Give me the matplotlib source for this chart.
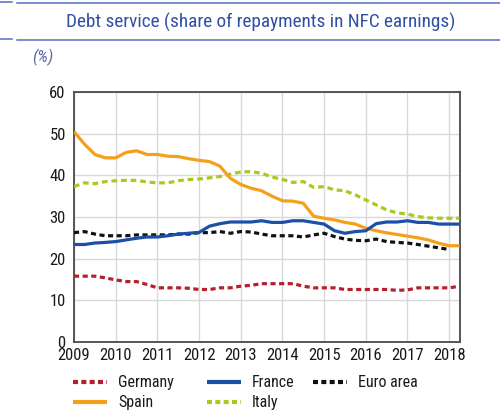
import numpy as np
import matplotlib
matplotlib.use("Agg")
import matplotlib.pyplot as plt
from matplotlib.lines import Line2D

plt.rcParams['font.family'] = ['Roboto Condensed', 'Archivo Narrow', 'DejaVu Sans']

# quarterly data 2009Q1 .. 2018Q2
start_year = 2009
n_quarters = 38
years = [2009, 2010, 2011, 2012, 2013, 2014, 2015, 2016, 2017, 2018]
yticks = [0, 10, 20, 30, 40, 50, 60]

germany = [15.8, 15.8, 15.8, 15.4, 14.9, 14.5, 14.5, 13.8, 13.0, 13.0,
           13.0, 12.9, 12.6, 12.6, 13.0, 13.0, 13.4, 13.6, 14.0, 14.0,
           14.0, 14.0, 13.4, 13.0, 13.0, 13.0, 12.6, 12.6, 12.6, 12.6,
           12.6, 12.4, 12.5, 13.0, 13.0, 13.0, 13.0, 13.4]
spain = [50.5, 47.5, 45.0, 44.2, 44.2, 45.5, 45.9, 45.0, 45.0, 44.6,
         44.5, 44.0, 43.6, 43.3, 42.2, 39.3, 37.8, 36.9, 36.3, 35.0,
         33.9, 33.8, 33.3, 30.2, 29.7, 29.3, 28.7, 28.3, 27.3, 26.7,
         26.2, 25.8, 25.4, 25.0, 24.5, 23.7, 23.1, 23.1]
france = [23.4, 23.4, 23.75, 23.9, 24.1, 24.5, 24.9, 25.2, 25.2, 25.5,
          25.9, 26.1, 26.3, 27.8, 28.4, 28.8, 28.8, 28.8, 29.1, 28.7,
          28.7, 29.1, 29.1, 28.7, 28.3, 26.7, 26.1, 26.5, 26.7, 28.4,
          28.8, 28.8, 29.1, 28.7, 28.7, 28.3, 28.3, 28.3]
italy = [37.3, 38.2, 38.0, 38.5, 38.7, 38.8, 38.8, 38.4, 38.2, 38.2,
         38.7, 39.0, 39.1, 39.4, 39.7, 40.3, 40.8, 40.9, 40.5, 39.6,
         39.0, 38.3, 38.5, 37.1, 37.3, 36.5, 36.3, 35.3, 34.1, 32.9,
         31.7, 31.0, 30.7, 30.1, 29.8, 29.7, 29.7, 29.7]
euro_area = [26.25, 26.5, 25.9, 25.5, 25.5, 25.5, 25.7, 25.7, 25.7, 25.7,
             25.9, 25.9, 26.25, 26.25, 26.5, 26.1, 26.5, 26.4, 25.9, 25.5,
             25.5, 25.5, 25.2, 25.7, 26.1, 25.3, 24.7, 24.4, 24.3, 24.7,
             24.1, 23.9, 23.75, 23.4, 23.0, 22.6, 22.2, np.nan]

t = start_year + np.arange(n_quarters) / 4.0

W, H = 500, 419
fig = plt.figure(figsize=(W / 100, H / 100), dpi=100)
ax = fig.add_axes([74 / W, 1 - 342 / H, (460 - 74) / W, (342 - 92) / H])

c_germany = '#b51f2e'
c_spain = '#f5a01a'
c_france = '#1c4fa6'
c_italy = '#a9c91f'
c_euro = '#111111'

lw = 2.3
ax.plot(t, germany, color=c_germany, lw=lw, dashes=(1.6, 1.1), zorder=3)
ax.plot(t, italy, color=c_italy, lw=lw, dashes=(1.8, 1.2), zorder=3)
ax.plot(t, spain, color=c_spain, lw=lw, solid_capstyle='butt', zorder=4)
ax.plot(t, france, color=c_france, lw=lw, solid_capstyle='butt', zorder=4)
ax.plot(t, euro_area, color=c_euro, lw=lw, dashes=(1.6, 1.1), zorder=3)

ax.set_xlim(2009, 2018.26)
ax.set_ylim(0, 60)
ax.set_xticks(years)
ax.set_xticklabels([str(y) for y in years])
ax.set_yticks(yticks)
ax.grid(True, color='#d9d9d9', lw=1.0, zorder=0)
ax.set_axisbelow(True)
for s in ax.spines.values():
    s.set_color('#4a4a4a')
    s.set_linewidth(1.3)
ax.tick_params(length=0, labelsize=12, colors='#1a1a1a')
ax.tick_params(axis='y', pad=6)
ax.tick_params(axis='x', pad=4)

# legend (row-major layout as in the reference)
legend_items = [
    ('Germany', c_germany, (1.2, 0.8), 73, 382),
    ('France', c_france, None, 207, 382),
    ('Euro area', c_euro, (1.2, 0.8), 313, 382),
    ('Spain', c_spain, None, 73, 402),
    ('Italy', c_italy, (1.2, 0.8), 207, 402),
]
for label, color, dashes, x0, y0 in legend_items:
    kw = dict(color=color, lw=3.0, solid_capstyle='butt')
    if dashes is not None:
        kw['dashes'] = dashes
    fig.add_artist(Line2D([x0 / W, (x0 + 34) / W], [1 - y0 / H, 1 - y0 / H], **kw))
    fig.text((x0 + 45) / W, 1 - y0 / H, label, ha='left', va='center',
             fontsize=11.5, color='#1a1a1a')

# header
title_blue = '#3050a4'
fig.text(261 / W, 1 - 22 / H, 'Debt service (share of repayments in NFC earnings)',
         ha='center', va='center', fontsize=13.9, color=title_blue)
fig.text(32 / W, 1 - 57 / H, '(%)', ha='left', va='center', fontsize=12.5,
         style='italic', color='#5a66a8')
line_blue = '#4e72c2'
for y in (3, 40.5):
    fig.add_artist(Line2D([17 / W, 1.0], [1 - y / H, 1 - y / H], color=line_blue, lw=1.1))
    fig.add_artist(Line2D([0.0, 12 / W], [1 - (y - 1) / H, 1 - (y - 1) / H], color=line_blue, lw=1.1))

fig.savefig('out.png', dpi=100)
